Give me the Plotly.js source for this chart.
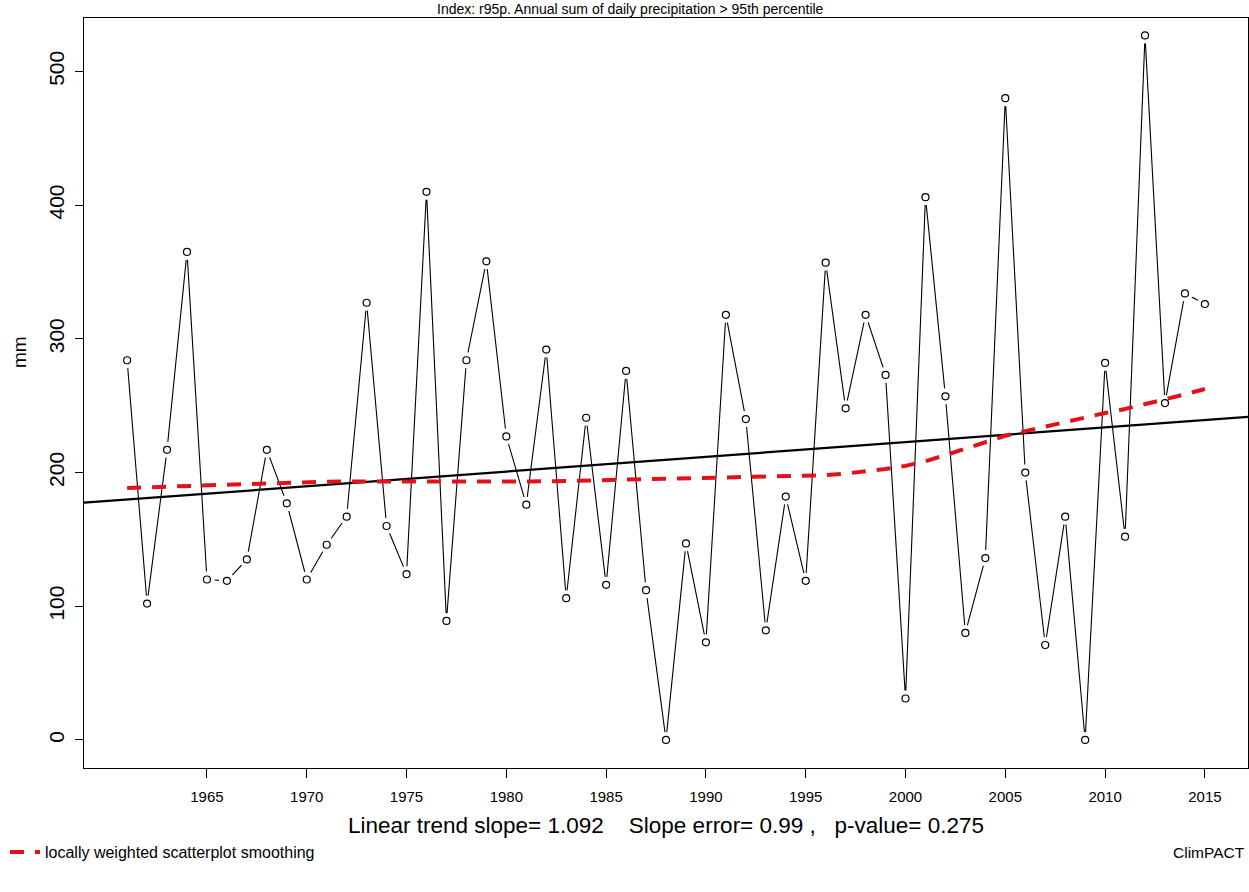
<!DOCTYPE html>
<html>
<head>
<meta charset="utf-8">
<script src="https://cdn.plot.ly/plotly-3.0.1.min.js"></script>
<style>html,body{margin:0;padding:0;background:#fff;}#chart{width:1249px;height:892px;}</style>
</head>
<body>
<div id="chart"></div>
<script>
// ---- data ----
const years = [1961,1962,1963,1964,1965,1966,1967,1968,1969,1970,
               1971,1972,1973,1974,1975,1976,1977,1978,1979,1980,
               1981,1982,1983,1984,1985,1986,1987,1988,1989,1990,
               1991,1992,1993,1994,1995,1996,1997,1998,1999,2000,
               2001,2002,2003,2004,2005,2006,2007,2008,2009,2010,
               2011,2012,2013,2014,2015];
const r95p = [284,102,217,365,120,119,135,217,177,120,
              146,167,327,160,124,410,89,284,358,227,
              176,292,106,241,116,276,112,0,147,73,
              318,240,82,182,119,357,248,318,273,31,
              406,257,80,136,480,200,71,167,0,282,
              152,527,252,334,326];
const loess = [188.5,189,189.5,190,190.7,191.3,191.8,192.3,192.7,193,
               193.2,193.3,193.3,193.3,193.2,193.1,193,192.9,192.9,193,
               193.2,193.4,193.7,194,194.4,194.8,195.2,195.6,196,196.3,
               196.5,196.7,196.8,196.9,197.2,198,199.2,200.8,202.7,205,
               208.5,213,218,223,227.5,231,234.5,238,241.5,244.5,
               247.5,251,254.5,258.5,262.5];
const xTickVals = [1965,1970,1975,1980,1985,1990,1995,2000,2005,2010,2015];
const yTickVals = [0,100,200,300,400,500];
const titleText = "Index: r95p. Annual sum of daily precipitation > 95th percentile";
const statsText = "Linear trend slope= 1.092    Slope error= 0.99 ,   p-value= 0.275";
const legendText = "locally weighted scatterplot smoothing";
const creditText = "ClimPACT";
const yTitle = "mm";

// ---- axis ranges ----
const xmin = Math.min(...years), xmax = Math.max(...years);
const xr = [xmin - 0.04*(xmax-xmin), xmax + 0.04*(xmax-xmin)];
const yr = [-21, 540];

// ---- least squares trend ----
const n = years.length;
const mx = years.reduce((a,b)=>a+b,0)/n;
const my = r95p.reduce((a,b)=>a+b,0)/n;
let sxy=0, sxx=0;
for (let i=0;i<n;i++){ sxy += (years[i]-mx)*(r95p[i]-my); sxx += (years[i]-mx)**2; }
const slope = sxy/sxx, icpt = my - slope*mx;

const W = 1249, H = 892;
const L = 84, R = 1, T = 18, B = 124;
const pw = W - L - R, ph = H - T - B;
const px2x = p => (p - L)/pw;
const py2y = p => (H - B - p)/ph;

const FONT = "Liberation Sans, Arial, sans-serif";

const traces = [
  { x: years, y: r95p, mode: 'lines', line: {color:'#000', width:1.1},
    showlegend:false, hoverinfo:'skip' },
  { x: years, y: r95p, mode: 'markers',
    marker: {symbol:'circle', size:16, color:'#fff', line:{width:0}},
    showlegend:false, hoverinfo:'skip' },
  { x: years, y: r95p, mode: 'markers',
    marker: {symbol:'circle-open', size:7, color:'#000', line:{width:1.2, color:'#000'}},
    showlegend:false },
  { x: xr, y: xr.map(v => icpt + slope*v), mode:'lines',
    line:{color:'#000', width:2.2}, showlegend:false, hoverinfo:'skip' },
  { x: years, y: loess, mode:'lines', name: legendText,
    line:{color:'#e3121a', width:4, dash:'14px,11px'}, showlegend:true }
];

const layout = {
  width: W, height: H,
  margin: {l:L, r:R, t:T, b:B, autoexpand:false},
  paper_bgcolor:'#fff', plot_bgcolor:'#fff',
  font: {family: FONT, color:'#000'},
  xaxis: {
    range: xr, tickmode:'array', tickvals: xTickVals, ticktext: xTickVals.map(String),
    ticks:'outside', ticklen:9, tickwidth:1, tickcolor:'#000', ticklabelstandoff:6,
    showline:true, mirror:true, linecolor:'#000', linewidth:1.2,
    showgrid:false, zeroline:false, tickfont:{size:15, family:FONT, color:'#000'}
  },
  yaxis: {
    range: yr, tickmode:'array', tickvals: yTickVals, ticktext: yTickVals.map(String),
    ticks:'outside', ticklen:8, tickwidth:1, tickcolor:'#000', tickangle:-90,
    ticklabelstandoff:2,
    showline:true, mirror:true, linecolor:'#000', linewidth:1.2,
    showgrid:false, zeroline:false, tickfont:{size:21, family:FONT, color:'#000'}
  },
  showlegend: true,
  legend: {
    x: px2x(5), y: py2y(852), xanchor:'left', yanchor:'middle',
    xref:'paper', yref:'paper', bgcolor:'rgba(0,0,0,0)', borderwidth:0,
    font:{size:16, family:FONT, color:'#000'}, itemwidth:30
  },
  annotations: [
    { text: titleText, xref:'paper', yref:'paper', x: px2x(630), y: py2y(9),
      xanchor:'center', yanchor:'middle', showarrow:false,
      font:{size:14, family:FONT, color:'#000'} },
    { text: yTitle, xref:'paper', yref:'paper', x: px2x(19), y: py2y(352),
      xanchor:'center', yanchor:'middle', showarrow:false, textangle:-90,
      font:{size:19, family:FONT, color:'#000'} },
    { text: statsText.replace(/ {2,}/g, m => '&nbsp;'.repeat(m.length)), xref:'paper', yref:'paper', x: px2x(666), y: py2y(825),
      xanchor:'center', yanchor:'middle', showarrow:false,
      font:{size:22.5, family:FONT, color:'#000'} },
    { text: creditText, xref:'paper', yref:'paper', x: px2x(1247), y: py2y(852),
      xanchor:'right', yanchor:'middle', showarrow:false,
      font:{size:15.5, family:FONT, color:'#000'} }
  ]
};

Plotly.newPlot('chart', traces, layout, {staticPlot:true, displayModeBar:false});
</script>
</body>
</html>
